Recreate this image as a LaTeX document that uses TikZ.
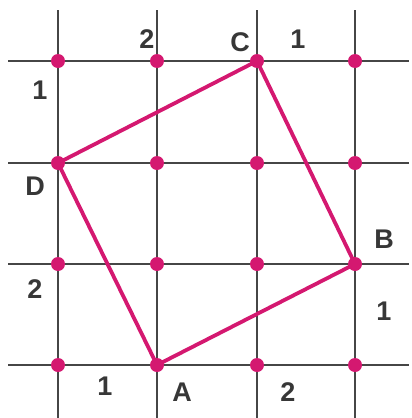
\documentclass[tikz,border=0pt]{standalone}
\usepackage{fontspec}
\setmainfont{Liberation Sans}
\definecolor{mag}{RGB}{212,24,112}
\definecolor{gridc}{RGB}{70,70,70}
\definecolor{txt}{RGB}{55,55,55}
\begin{document}
\begin{tikzpicture}[x=1pt,y=-1pt,
  gridline/.style={draw=gridc,line width=2.5pt},
  side/.style={draw=mag,line width=3.8pt,line join=round},
  dot/.style={circle,fill=mag,inner sep=0pt,minimum size=14pt},
  lab/.style={text=txt,font=\fontsize{27}{27}\selectfont\bfseries,inner sep=0pt}]
\useasboundingbox (0,0) rectangle (412,418);
% grid lines
\foreach \x/\n in {58/a,157/b,257/c,355/d}{
  \coordinate (vt\n) at (\x,10);
  \coordinate (vb\n) at (\x,418);
  \draw[gridline] (vt\n) -- (vb\n);
}
\foreach \y/\n in {61/a,163/b,264/c,365/d}{
  \coordinate (hl\n) at (8,\y);
  \coordinate (hr\n) at (409,\y);
  \draw[gridline] (hl\n) -- (hr\n);
}
% square
\coordinate (A) at (157,365);
\coordinate (B) at (355,264);
\coordinate (C) at (257,61);
\coordinate (D) at (58,163);
\draw[side] (A) -- (B) -- (C) -- (D) -- cycle;
% dots
\foreach \x/\i in {58/1,157/2,257/3,355/4}{
  \foreach \y/\j in {61/1,163/2,264/3,365/4}{
    \node[dot] (p\i\j) at (\x,\y) {};
  }
}
% labels
\node[lab] (lA) at (182,392) {A};
\node[lab] (lB) at (384,239) {B};
\node[lab] (lC) at (240,42) {C};
\node[lab] (lD) at (35,186) {D};
\node[lab] (n1) at (40,90) {1};
\node[lab] (n2) at (147,39) {2};
\node[lab] (n3) at (298,39) {1};
\node[lab] (n4) at (35,289) {2};
\node[lab] (n5) at (384,311) {1};
\node[lab] (n6) at (105,386) {1};
\node[lab] (n7) at (288,392) {2};
\end{tikzpicture}
\end{document}
